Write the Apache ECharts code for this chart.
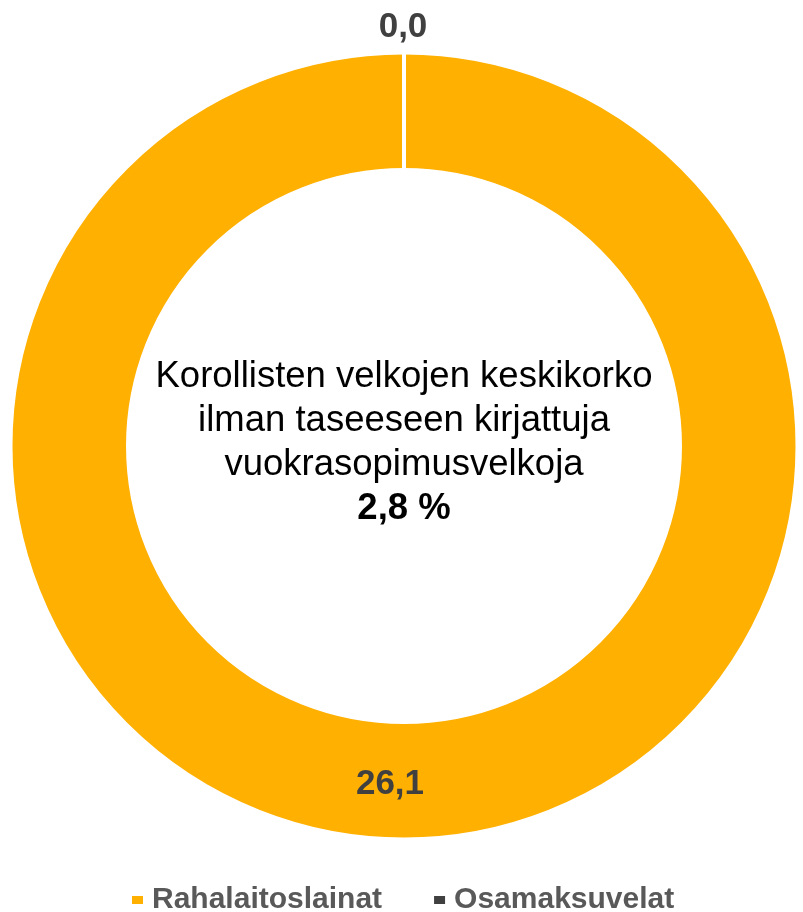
<!DOCTYPE html>
<html>
<head>
<meta charset="utf-8">
<script src="https://cdn.jsdelivr.net/npm/echarts@6/dist/echarts.min.js"></script>
<style>
  html, body { margin: 0; padding: 0; background: #fff; }
  #main { width: 803px; height: 912px; }
</style>
</head>
<body>
<div id="main"></div>
<script>
// lainatyypit ja arvot (milj. e)
const categories = ['Rahalaitoslainat', 'Osamaksuvelat'];
const values = [26.1, 0.0];
const colors = ['#FFB000', '#404040'];
const centerLines = ['Korollisten velkojen keskikorko', 'ilman taseeseen kirjattuja', 'vuokrasopimusvelkoja'];
const centerValue = '2,8 %';

const chart = echarts.init(document.getElementById('main'));

const fmt = v => v.toFixed(1).replace('.', ',');

const option = {
    backgroundColor: '#fff',
    color: colors,
    legend: {
        data: categories,
        left: 125,
        top: 880,
        icon: 'rect',
        itemWidth: 13,
        itemHeight: 10,
        itemGap: 50,
        textStyle: {
            fontFamily: 'Liberation Sans, Arial, sans-serif',
            fontSize: 30,
            fontWeight: 'bold',
            color: '#595959',
            padding: [0, 0, 0, 3]
        }
    },
    graphic: [{
        type: 'text',
        x: 404,
        y: 443,
        style: {
            text: centerLines.map(t => '{n|' + t + '}').join('\n') + '\n{b|' + centerValue + '}',
            align: 'center',
            verticalAlign: 'middle',
            rich: {
                n: { fontFamily: 'Liberation Sans, Arial, sans-serif', fontSize: 36.5, lineHeight: 44, color: '#000', align: 'center' },
                b: { fontFamily: 'Liberation Sans, Arial, sans-serif', fontSize: 36.5, lineHeight: 44, fontWeight: 'bold', color: '#000', align: 'center' }
            }
        }
    }],
    series: [{
        name: 'Lainat',
        type: 'pie',
        center: [404, 446],
        radius: [276, 393.5],
        startAngle: 90,
        clockwise: true,
        avoidLabelOverlap: false,
        itemStyle: { borderColor: '#fff', borderWidth: 4 },
        label: {
            show: true,
            position: 'inside',
            formatter: p => fmt(p.value),
            fontFamily: 'Liberation Sans, Arial, sans-serif',
            fontSize: 35,
            fontWeight: 'bold',
            color: '#404040'
        },
        labelLine: { show: false },
        labelLayout: function (params) {
            if (params.dataIndex === 1) {
                return { x: 403, y: 27, align: 'center', verticalAlign: 'middle' };
            }
            return { dx: -14, dy: 1 };
        },
        emphasis: { disabled: true },
        data: categories.map((c, i) => ({
            name: c,
            value: values[i],
            label: i === 1 ? { position: 'outside' } : {}
        }))
    }]
};

chart.setOption(option);
</script>
</body>
</html>
